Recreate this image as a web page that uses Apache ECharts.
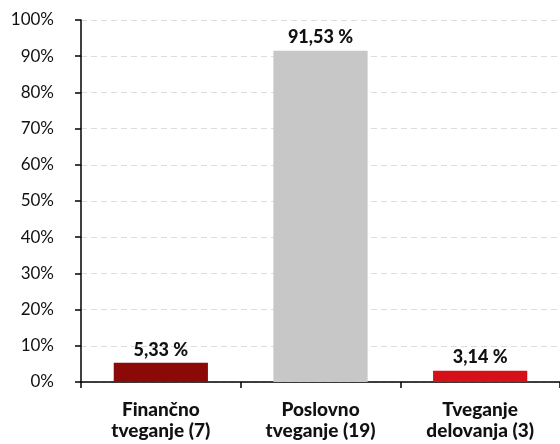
<!DOCTYPE html>
<html>
<head>
<meta charset="utf-8">
<script src="https://cdn.jsdelivr.net/npm/echarts@6/dist/echarts.min.js"></script>
<style>
html, body { margin: 0; padding: 0; background: #fff; }
#chart { width: 560px; height: 444px; }
</style>
</head>
<body>
<div id="chart"></div>
<script>
var categories = ['Finančno\ntveganje (7)', 'Poslovno\ntveganje (19)', 'Tveganje\ndelovanja (3)'];
var values = [5.33, 91.53, 3.14];
var barColors = ['#8b0a07', '#c6c7c6', '#d41019'];

var myChart = echarts.init(document.getElementById('chart'));

var option = {
    animation: false,
    grid: {
        left: 81,
        right: 0,
        top: 20,
        bottom: 62
    },
    xAxis: {
        type: 'category',
        data: categories,
        axisLine: {
            lineStyle: { color: '#000', width: 1.5 }
        },
        axisTick: {
            show: true,
            length: 6,
            lineStyle: { color: '#000', width: 1.5 }
        },
        axisLabel: {
            color: '#111',
            fontFamily: 'Lato',
            fontWeight: 900,
            fontSize: 19,
            lineHeight: 21,
            margin: 17
        }
    },
    yAxis: {
        type: 'value',
        min: 0,
        max: 100,
        interval: 10,
        axisLine: {
            show: true,
            lineStyle: { color: '#000', width: 1.5 }
        },
        axisTick: {
            show: true,
            length: 6,
            lineStyle: { color: '#000', width: 1.5 }
        },
        axisLabel: {
            color: '#111',
            fontFamily: 'Lato',
            fontSize: 17,
            margin: 27,
            formatter: '{value}%'
        },
        splitLine: {
            lineStyle: { color: '#dcdcdc', type: [6, 4] }
        }
    },
    series: [{
        type: 'bar',
        data: values.map(function (v, i) {
            return { value: v, itemStyle: { color: barColors[i] } };
        }),
        barWidth: '59%',
        label: {
            show: true,
            position: 'top',
            distance: 4,
            color: '#111',
            fontFamily: 'Lato',
            fontWeight: 900,
            fontSize: 18,
            formatter: function (p) {
                return p.value.toFixed(2).replace('.', ',') + ' %';
            }
        }
    }]
};
myChart.setOption(option);
</script>
</body>
</html>
